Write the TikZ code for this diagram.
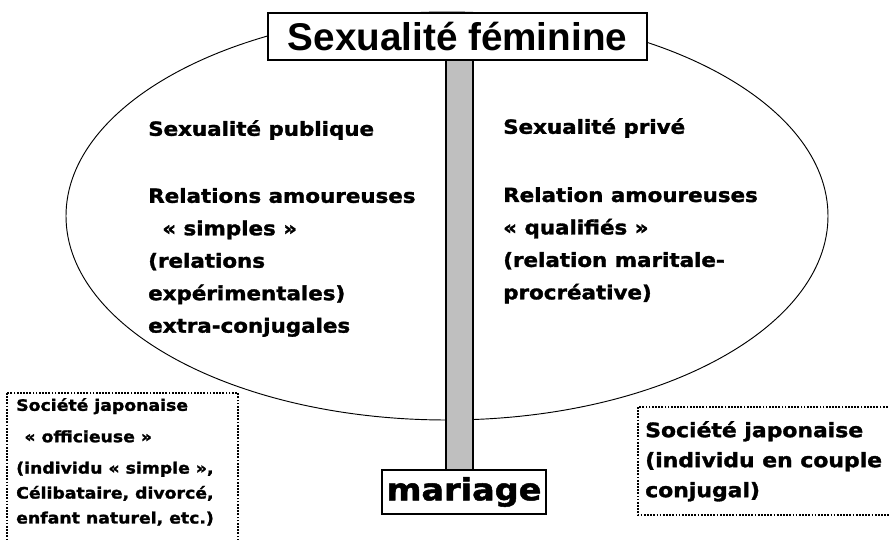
\documentclass[tikz,border=0pt]{standalone}
\usepackage{fontspec}
\setmainfont{Liberation Sans}
\newfontfamily\lourd{DejaVu Sans}[FakeStretch=1.1, FakeBold=1.6]

\begin{document}
\begin{tikzpicture}[x=0.03cm,y=-0.03cm]
\tikzset{boite/.style={draw, line width=1.3pt, fill=white, inner sep=0pt},
  texte/.style={anchor=north west, inner sep=0pt, align=left,
    font=\lourd\bfseries\fontsize{16.6}{27.7}\selectfont},
  cadre/.style={draw, line width=1.2pt, dash pattern=on 1.5pt off 1.2pt}}
\useasboundingbox (0,0) rectangle (889,540);
\clip (0,0) rectangle (889,540);
\draw[line width=0.8pt] (447,216) ellipse [x radius=381, y radius=204];
\draw[line width=1pt, fill=black!25] (446,60) rectangle (473,470);
\node[boite, minimum width=11.37cm, minimum height=1.41cm,
  font=\bfseries\fontsize{33}{36}\selectfont] (titre) at (457.5,36.5) {Sexualité féminine};
\node[boite, minimum width=4.92cm, minimum height=1.32cm,
  font=\lourd\bfseries\fontsize{26}{30}\selectfont] (mariage) at (464,492) {mariage};
% partie publique / partie privee
\node[texte] (publique) at (148,120) {Sexualité publique\\[29.5pt]
  Relations amoureuses\\
  \hspace*{12pt}« simples »\\
  (relations\\
  expérimentales)\\
  extra-conjugales};
\node[texte] (prive) at (503,118) {Sexualité privé\\[30.5pt]
  Relation amoureuses\\
  « qualifiés »\\
  (relation maritale-\\
  procréative)};
% les deux societes
\draw[cadre] (7,393) rectangle (238,560);
\node[texte, font=\lourd\bfseries\fontsize{13.4}{21.3}\selectfont] (officieuse) at (16,398)
  {Société japonaise\\[5.5pt]
  \hspace*{7pt}« officieuse »\\[5.5pt]
  (individu « simple »,\\
  Célibataire, divorcé,\\
  enfant naturel, etc.)};
\draw[cadre] (638,407) rectangle (900,515);
\node[texte, font=\lourd\bfseries\fontsize{17}{25.6}\selectfont] (conjugal) at (645,421)
  {Société japonaise\\
  (individu en couple\\
  conjugal)};
\end{tikzpicture}
\end{document}
